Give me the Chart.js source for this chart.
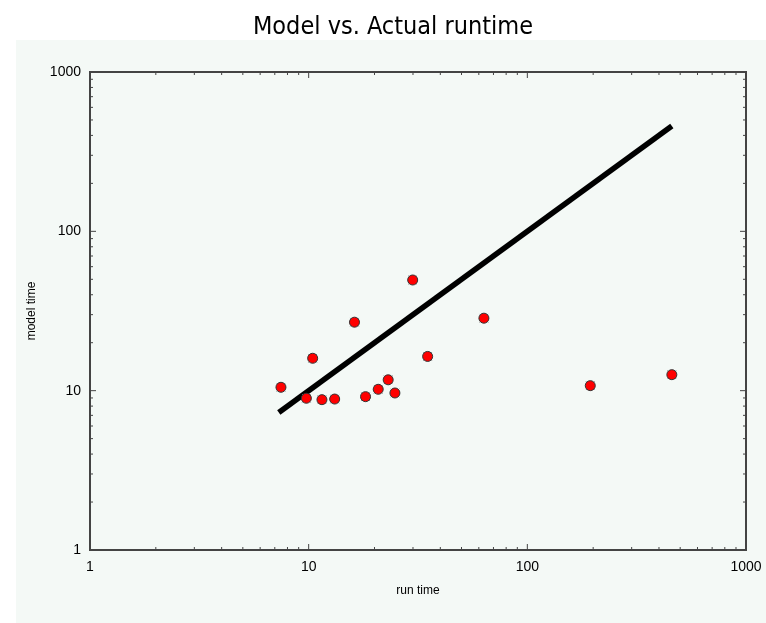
<!DOCTYPE html>
<html>
<head>
<meta charset="utf-8">
<script src="https://cdn.jsdelivr.net/npm/chart.js@4.4.1/dist/chart.umd.min.js"></script>
<style>
  body { margin: 0; background: #fff; }
  canvas { display: block; }
</style>
</head>
<body>
<canvas id="myChart" width="766" height="623"></canvas>
<script>
const runTime = [7.47, 9.76, 11.5, 13.15, 10.43, 16.2, 18.2, 20.8, 23.1, 24.8, 35.0, 29.9, 63.3, 194, 458];
const modelTime = [10.5, 8.96, 8.78, 8.86, 15.97, 26.9, 9.17, 10.2, 11.7, 9.67, 16.4, 49.5, 28.5, 10.75, 12.6];

// y = x reference line ends
const fitRun = [7.3, 458];
const fitModel = [7.3, 458];

// axis ticks
const majorTicks = [1, 10, 100, 1000];
const minorTicks = [2, 3, 4, 5, 6, 7, 8, 9, 20, 30, 40, 50, 60, 70, 80, 90, 200, 300, 400, 500, 600, 700, 800, 900];

const ctx = document.getElementById('myChart');

const points = runTime.map((x, i) => ({ x: x, y: modelTime[i] }));
const fitLine = fitRun.map((x, i) => ({ x: x, y: fitModel[i] }));

const frame = {
    id: 'frame',
    beforeDraw(chart) {
        const c = chart.ctx;
        c.save();
        c.fillStyle = '#f4f9f6';
        c.fillRect(16, 40, chart.width - 16, chart.height - 40);
        c.restore();
    },
    afterDraw(chart) {
        const c = chart.ctx;
        const { left, right, top, bottom } = chart.chartArea;
        const xs = chart.scales.x;
        const ys = chart.scales.y;
        c.save();
        c.strokeStyle = '#444';
        c.lineWidth = 1;
        const tick = (v, len) => {
            const px = xs.getPixelForValue(v);
            const py = ys.getPixelForValue(v);
            c.beginPath();
            c.moveTo(px, bottom); c.lineTo(px, bottom - len);
            c.moveTo(px, top); c.lineTo(px, top + len);
            c.moveTo(left, py); c.lineTo(left + len, py);
            c.moveTo(right, py); c.lineTo(right - len, py);
            c.stroke();
        };
        minorTicks.forEach(v => tick(v, 3));
        majorTicks.slice(1, -1).forEach(v => tick(v, 6));
        c.lineWidth = 2;
        c.strokeRect(left, top, right - left, bottom - top);
        c.restore();
    }
};

const myChart = new Chart(ctx, { // eslint-disable-line
    type: 'scatter',
    data: {
        datasets: [
            {
                label: 'model',
                data: points,
                backgroundColor: '#ff0000',
                borderColor: '#333',
                borderWidth: 1,
                pointRadius: 5,
                order: 0
            },
            {
                label: 'actual',
                data: points,
                pointStyle: 'crossRot',
                borderColor: '#777',
                borderWidth: 1,
                pointRadius: 6,
                order: 1
            },
            {
                type: 'line',
                label: 'fit',
                data: fitLine,
                borderColor: '#000',
                borderWidth: 5.5,
                pointRadius: 0,
                order: 2
            }
        ]
    },
    plugins: [frame],
    options: {
        responsive: false,
        animation: false,
        layout: { padding: { left: 40, right: 20, top: 0, bottom: 0 } },
        plugins: {
            legend: { display: false },
            tooltip: { enabled: false },
            title: {
                display: true,
                text: 'Model vs. Actual runtime',
                color: '#000',
                font: { family: "'Liberation Sans Narrow', 'DejaVu Sans Condensed', sans-serif", size: 25, weight: 'normal' },
                padding: { top: 12, bottom: 30 }
            }
        },
        scales: {
            x: {
                type: 'logarithmic',
                min: 1,
                max: 1000,
                grid: { display: false, drawTicks: false },
                border: { display: false },
                afterBuildTicks: scale => { scale.ticks = majorTicks.map(v => ({ value: v })); },
                afterFit: scale => {
                    scale.height = 73;
                    scale.paddingLeft = 0;
                    scale.paddingRight = 0;
                },
                ticks: {
                    autoSkip: false,
                    maxRotation: 0,
                    padding: 9,
                    color: '#000',
                    font: { family: "'Liberation Sans', sans-serif", size: 14 },
                    callback: v => String(v)
                },
                title: {
                    display: true,
                    text: 'run time',
                    color: '#000',
                    font: { family: "'Liberation Sans', sans-serif", size: 12 },
                    padding: { top: 0, bottom: 25 }
                }
            },
            y: {
                type: 'logarithmic',
                min: 1,
                max: 1000,
                grid: { display: false, drawTicks: false },
                border: { display: false },
                afterBuildTicks: scale => { scale.ticks = majorTicks.map(v => ({ value: v })); },
                afterFit: scale => { scale.width = 50; },
                ticks: {
                    autoSkip: false,
                    padding: 9,
                    color: '#000',
                    font: { family: "'Liberation Sans', sans-serif", size: 14 },
                    callback: v => String(v)
                },
                title: {
                    display: true,
                    text: 'model time',
                    color: '#000',
                    font: { family: "'Liberation Sans', sans-serif", size: 12 },
                    padding: { top: -15.2, bottom: 0 }
                }
            }
        }
    }
});
</script>
</body>
</html>
